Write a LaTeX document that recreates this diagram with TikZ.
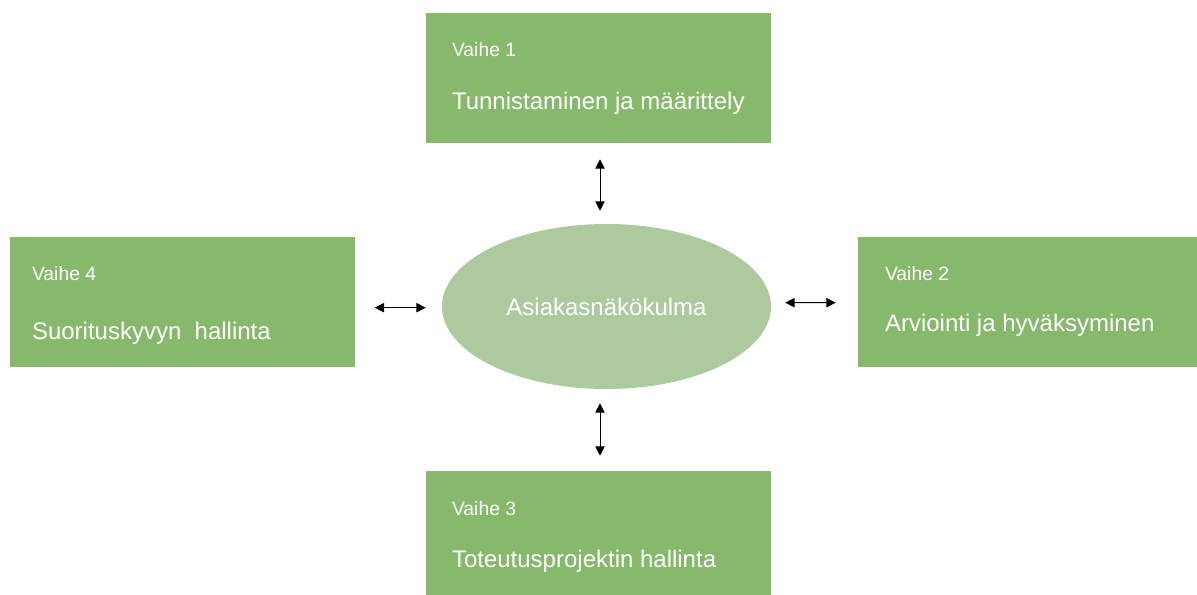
\documentclass[tikz,border=0pt]{standalone}
\usepackage{fontspec}
\setmainfont{Liberation Sans}
\usepackage{tikz}
\usetikzlibrary{arrows.meta,positioning,calc,shapes.geometric}
\definecolor{phasegreen}{RGB}{135,185,108}
\definecolor{coregreen}{RGB}{172,202,157}

\begin{document}
\begin{tikzpicture}[x=0.75pt,y=-0.75pt,>={Triangle[length=7pt,width=7pt]}]
  \tikzstyle{phase}=[fill=phasegreen,draw=none,minimum width=258.75pt,minimum height=97.5pt,inner sep=0pt]
  \tikzstyle{tag}=[text=white,font=\fontsize{14.5}{17}\selectfont,inner sep=0pt,anchor=base west]
  \tikzstyle{title}=[text=white,font=\fontsize{18}{21}\selectfont,inner sep=0pt,anchor=base west]
  \tikzstyle{link}=[<->,line width=0.75pt]
  \useasboundingbox (0,0) rectangle (1197,595);
  % centre
  \node[ellipse,fill=coregreen,minimum width=246.75pt,minimum height=123.75pt,inner sep=0pt,
        text=white,font=\fontsize{18}{21}\selectfont] (core) at (606.5,306.5) {Asiakasnäkökulma};
  % phases
  \node[phase] (v1) at (598.5,78) {};
  \node[phase,minimum width=254.25pt] (v2) at (1027.5,302) {};
  \node[phase,minimum height=93pt] (v3) at (598.5,533) {};
  \node[phase] (v4) at (182.5,302) {};
  \node[tag] (v1a) at ($(v1.north west)+(26,44)$) {Vaihe 1};
  \node[title] (v1b) at ($(v1.north west)+(26,97)$) {Tunnistaminen ja määrittely};
  \node[tag] (v2a) at ($(v2.north west)+(27,44)$) {Vaihe 2};
  \node[title] (v2b) at ($(v2.north west)+(27,95)$) {Arviointi ja hyväksyminen};
  \node[tag] (v3a) at ($(v3.north west)+(26,45)$) {Vaihe 3};
  \node[title] (v3b) at ($(v3.north west)+(26,97)$) {Toteutusprojektin hallinta};
  \node[tag] (v4a) at ($(v4.north west)+(22,44)$) {Vaihe 4};
  \node[title] (v4b) at ($(v4.north west)+(22,103)$) {Suorituskyvyn~ hallinta};
  % links
  \draw[link] ($(v1.south)+(1.5,16)$) -- ($(core.north)+(-6.5,-13)$);
  \draw[link] ($(core.south)+(-6.5,14)$) -- ($(v3.north)+(1.5,-15)$);
  \draw[link] ($(v4.east)+(19.5,5.7)$) -- ($(core.west)+(-16,1.2)$);
  \draw[link] ($(core.east)+(14,-3.8)$) -- ($(v2.west)+(-22,0.7)$);
\end{tikzpicture}
\end{document}
